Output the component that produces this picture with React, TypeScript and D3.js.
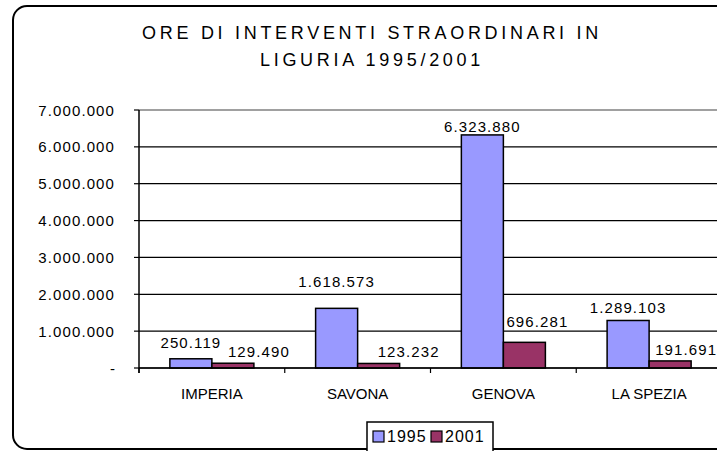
import * as d3 from "d3"

// data
const provinces = ["IMPERIA", "SAVONA", "GENOVA", "LA SPEZIA"]
const years = ["1995", "2001"]
const hours1995 = [250119, 1618573, 6323880, 1289103]
const hours2001 = [129490, 123232, 696281, 191691]
const yTicks = [0, 1000000, 2000000, 3000000, 4000000, 5000000, 6000000, 7000000]
const titleLines = ["ORE DI INTERVENTI STRAORDINARI IN", "LIGURIA 1995/2001"]

// the value labels were dragged around by hand in the original
const labelNudge1995 = [[0, -3], [0, -13], [0, 5], [0, 1]]
const labelNudge2001 = [[26, 2], [30, 2], [13, -7], [16, 2]]

const colors = ["#9999FF", "#993366"]
const font = "'Liberation Sans', Arial, sans-serif"

const W = 717
const H = 451
const left = 139, top = 110, bottom = 368, right = 722

const fmt = (v: number) => {
  if (v === 0) return "-"
  return d3.format(",")(v).replace(/,/g, ".")
}

export default function App() {
  const x0 = d3.scaleBand<string>()
    .domain(provinces)
    .range([left, right])
    .paddingInner(0.4235)
    .paddingOuter(0.2118)

  const x1 = d3.scaleBand<string>()
    .domain(years)
    .range([0, x0.bandwidth()])

  const y = d3.scaleLinear().domain([0, 7000000]).range([bottom, top])

  const series = [hours1995, hours2001]
  const nudges = [labelNudge1995, labelNudge2001]
  const gap = x0.step() * x0.paddingInner()

  // category separators on the x axis
  const sepX = [left, ...provinces.slice(1).map(p => x0(p)! - gap / 2)]

  return (
    <svg width={W} height={H} style={{ position: "absolute", left: 0, top: 0 }} fontFamily={font}>
      <rect x={0} y={0} width={W} height={H} fill="#fff" />
      <rect x={13} y={6} width={718} height={443} rx={14} fill="#fff" stroke="#000" strokeWidth={2} />

      {/* title */}
      {titleLines.map((t, i) => (
        <text key={t} x={372} y={39 + i * 27} textAnchor="middle" fontSize={18} letterSpacing={3.7} fill="#000">
          {t}
        </text>
      ))}

      {/* gridlines */}
      {yTicks.map(t => (
        <line key={t} x1={left} x2={right + 20} y1={y(t)} y2={y(t)}
          stroke={t === 7000000 ? "#808080" : "#000"} strokeWidth={t === 7000000 ? 1.5 : 1.2} />
      ))}

      {/* y axis */}
      <line x1={left} x2={left} y1={top} y2={bottom + 5} stroke="#000" strokeWidth={1.5} />
      {yTicks.map(t => (
        <g key={"t" + t}>
          <line x1={left - 5} x2={left} y1={y(t)} y2={y(t)} stroke="#000" strokeWidth={1.2} />
          <text x={115} y={y(t) + 5.5} textAnchor="end" fontSize={15} letterSpacing={t === 0 ? 0 : 1.1} fill="#000">
            {fmt(t)}
          </text>
        </g>
      ))}

      {/* bars */}
      {provinces.map((p, i) => (
        <g key={p} transform={`translate(${x0(p)},0)`}>
          {years.map((yr, s) => (
            <rect key={yr} x={x1(yr)} y={y(series[s][i])} width={x1.bandwidth()}
              height={bottom - y(series[s][i])} fill={colors[s]} stroke="#000" strokeWidth={1.5} />
          ))}
        </g>
      ))}

      {/* x axis */}
      <line x1={left} x2={right + 20} y1={bottom} y2={bottom} stroke="#000" strokeWidth={1.5} />
      {sepX.map((sx, i) => (
        <line key={i} x1={sx} x2={sx} y1={bottom} y2={bottom + 5} stroke="#000" strokeWidth={1.2} />
      ))}
      {provinces.map(p => (
        <text key={"c" + p} x={x0(p)! + x0.bandwidth() / 2} y={399} textAnchor="middle" fontSize={15} fill="#000">
          {p}
        </text>
      ))}

      {/* value labels */}
      {provinces.map((p, i) =>
        years.map((yr, s) => (
          <text key={p + yr}
            x={x0(p)! + x1(yr)! + x1.bandwidth() / 2 + nudges[s][i][0]}
            y={y(series[s][i]) - 8 + nudges[s][i][1]}
            textAnchor="middle" fontSize={15} letterSpacing={1.1} fill="#000">
            {fmt(series[s][i])}
          </text>
        ))
      )}

      {/* legend */}
      <rect x={367} y={422} width={126} height={34} fill="#fff" stroke="#000" strokeWidth={1.5} />
      {years.map((yr, s) => (
        <g key={"l" + yr} transform={`translate(${373 + s * 58},0)`}>
          <rect x={0} y={431} width={11} height={11} fill={colors[s]} stroke="#000" strokeWidth={1.2} />
          <text x={14} y={442} fontSize={16} letterSpacing={1} fill="#000">{yr}</text>
        </g>
      ))}
    </svg>
  )
}
